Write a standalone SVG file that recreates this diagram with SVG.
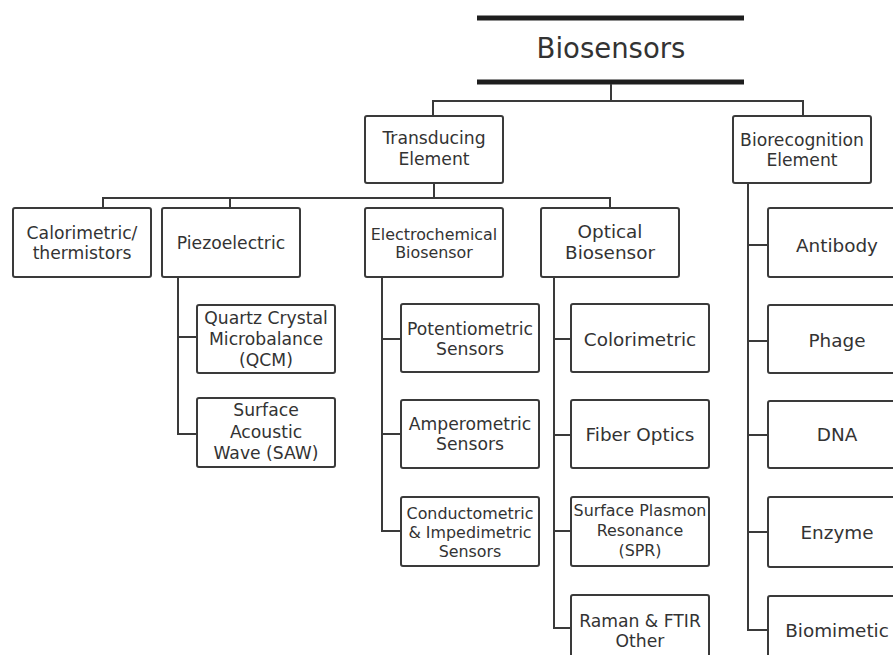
<svg xmlns="http://www.w3.org/2000/svg" width="893" height="655" viewBox="0 0 893 655">
<style>
  .box{fill:#fff;stroke:#3a3a3a;stroke-width:2}
  .ln{fill:none;stroke:#3a3a3a;stroke-width:2}
  .bar{stroke:#1e1e1e;stroke-width:5}
  text{font-family:"DejaVu Sans","Open Sans","Liberation Sans",sans-serif;fill:#333;text-anchor:middle}
  .a{font-size:18.4px}
  .b{font-size:17.2px}
  .c{font-size:15.9px}
</style>
<rect width="893" height="655" fill="#fff"/>
<g id="title">
  <line class="bar" x1="477" y1="18" x2="744" y2="18"/>
  <line class="bar" x1="477" y1="82" x2="744" y2="82"/>
  <text x="611" y="58" style="font-size:27.5px">Biosensors</text>
</g>
<g id="connectors">
  <path class="ln" d="M611 84V101M433 116V101H803V116"/>
  <path class="ln" d="M434 183V198M103 208V198H610V208M230 198V208"/>
  <path class="ln" d="M748 183V630H768M748 245H768M748 341H768M748 435H768M748 532H768"/>
  <path class="ln" d="M178 277V434H197M178 337H197"/>
  <path class="ln" d="M382 277V531H401M382 339H401M382 434H401"/>
  <path class="ln" d="M554 277V628H571M554 339H571M554 435H571M554 531H571"/>
</g>
<g id="transducing"><rect class="box" x="365" y="116" width="138" height="67" rx="2"/><text class="b" x="434" y="144">Transducing</text><text class="b" x="434" y="164.5">Element</text></g>
<g id="biorecognition"><rect class="box" x="733" y="116" width="138" height="67" rx="2"/><text class="b" x="802" y="146">Biorecognition</text><text class="b" x="802" y="166">Element</text></g>
<g id="calorimetric"><rect class="box" x="13" y="208" width="138" height="69" rx="2"/><text class="b" x="82" y="239">Calorimetric/</text><text class="b" x="82" y="259">thermistors</text></g>
<g id="piezoelectric"><rect class="box" x="162" y="208" width="138" height="69" rx="2"/><text class="b" x="231" y="249">Piezoelectric</text></g>
<g id="electrochemical"><rect class="box" x="365" y="208" width="138" height="69" rx="2"/><text class="c" x="434" y="240">Electrochemical</text><text class="c" x="434" y="258">Biosensor</text></g>
<g id="optical"><rect class="box" x="541" y="208" width="138" height="69" rx="2"/><text class="a" x="610" y="238">Optical</text><text class="a" x="610" y="259">Biosensor</text></g>
<g id="qcm"><rect class="box" x="197" y="305" width="138" height="68" rx="2"/><text class="b" x="266" y="324">Quartz Crystal</text><text class="b" x="266" y="345">Microbalance</text><text class="b" x="266" y="366">(QCM)</text></g>
<g id="saw"><rect class="box" x="197" y="398" width="138" height="69" rx="2"/><text class="b" x="266" y="416">Surface</text><text class="b" x="266" y="437.5">Acoustic</text><text class="b" x="266" y="459">Wave (SAW)</text></g>
<g id="potentiometric"><rect class="box" x="401" y="304" width="138" height="68" rx="2"/><text class="b" x="470" y="335">Potentiometric</text><text class="b" x="470" y="355">Sensors</text></g>
<g id="amperometric"><rect class="box" x="401" y="400" width="138" height="68" rx="2"/><text class="b" x="470" y="430">Amperometric</text><text class="b" x="470" y="450">Sensors</text></g>
<g id="conductometric"><rect class="box" x="401" y="497" width="138" height="69" rx="2"/><text class="c" x="470" y="518.5">Conductometric</text><text class="c" x="470" y="537.5">&amp; Impedimetric</text><text class="c" x="470" y="557">Sensors</text></g>
<g id="colorimetric"><rect class="box" x="571" y="304" width="138" height="68" rx="2"/><text class="a" x="640" y="346">Colorimetric</text></g>
<g id="fiber"><rect class="box" x="571" y="400" width="138" height="68" rx="2"/><text class="a" x="640" y="441">Fiber Optics</text></g>
<g id="spr"><rect class="box" x="571" y="497" width="138" height="69" rx="2"/><text class="c" x="640" y="516">Surface Plasmon</text><text class="c" x="640" y="535.5">Resonance</text><text class="c" x="640" y="556">(SPR)</text></g>
<g id="raman"><rect class="box" x="571" y="595" width="138" height="69" rx="2"/><text class="b" x="640" y="627">Raman &amp; FTIR</text><text class="b" x="640" y="647">Other</text></g>
<g id="antibody"><rect class="box" x="768" y="208" width="138" height="69" rx="2"/><text class="a" x="837" y="252">Antibody</text></g>
<g id="phage"><rect class="box" x="768" y="305" width="138" height="68" rx="2"/><text class="a" x="837" y="347">Phage</text></g>
<g id="dna"><rect class="box" x="768" y="401" width="138" height="67" rx="2"/><text class="a" x="837" y="441">DNA</text></g>
<g id="enzyme"><rect class="box" x="768" y="497" width="138" height="70" rx="2"/><text class="a" x="837" y="539">Enzyme</text></g>
<g id="biomimetic"><rect class="box" x="768" y="596" width="138" height="69" rx="2"/><text class="a" x="837" y="637">Biomimetic</text></g>
</svg>
